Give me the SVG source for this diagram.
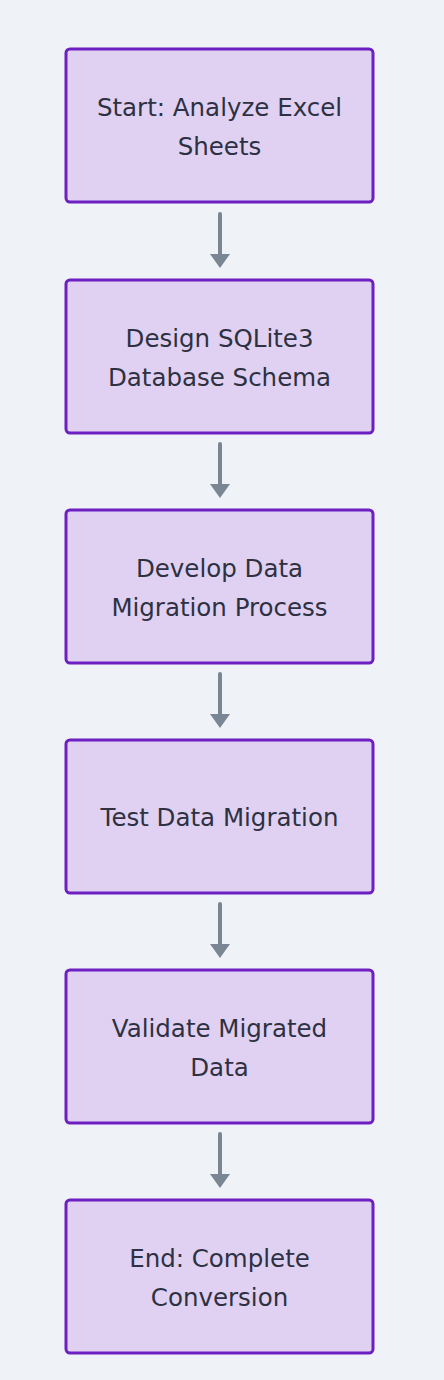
<svg xmlns="http://www.w3.org/2000/svg" width="444" height="1380" viewBox="0 0 444 1380">
<defs>
<style>
.box{fill:#e0d1f2;stroke:#6d1fc2;stroke-width:3}
.t{font-family:"DejaVu Sans",sans-serif;font-size:24.5px;fill:#2e3142;text-anchor:middle;dominant-baseline:central}
.c{stroke:#7b8694;stroke-width:4;stroke-linecap:round;fill:none}
.h{fill:#7b8694}
</style>
</defs>
<rect width="444" height="1380" fill="#eff3f7"/>
<g id="connectors">
<path class="c" d="M220,214 V255"/><path class="h" d="M210,254 L230,254 L220,268 Z"/>
<path class="c" d="M220,444 V485"/><path class="h" d="M210,484 L230,484 L220,498 Z"/>
<path class="c" d="M220,674 V715"/><path class="h" d="M210,714 L230,714 L220,728 Z"/>
<path class="c" d="M220,904 V945"/><path class="h" d="M210,944 L230,944 L220,958 Z"/>
<path class="c" d="M220,1134 V1175"/><path class="h" d="M210,1174 L230,1174 L220,1188 Z"/>
</g>
<g id="n1"><rect class="box" x="66" y="49" width="307" height="153" rx="4"/><text class="t" x="219.5" y="107">Start: Analyze Excel</text><text class="t" x="219.5" y="146">Sheets</text></g>
<g id="n2"><rect class="box" x="66" y="280" width="307" height="153" rx="4"/><text class="t" x="219.5" y="338">Design SQLite3</text><text class="t" x="219.5" y="377">Database Schema</text></g>
<g id="n3"><rect class="box" x="66" y="510" width="307" height="153" rx="4"/><text class="t" x="219.5" y="568">Develop Data</text><text class="t" x="219.5" y="607">Migration Process</text></g>
<g id="n4"><rect class="box" x="66" y="740" width="307" height="153" rx="4"/><text class="t" x="219.5" y="817">Test Data Migration</text></g>
<g id="n5"><rect class="box" x="66" y="970" width="307" height="153" rx="4"/><text class="t" x="219.5" y="1028">Validate Migrated</text><text class="t" x="219.5" y="1067">Data</text></g>
<g id="n6"><rect class="box" x="66" y="1200" width="307" height="153" rx="4"/><text class="t" x="219.5" y="1258">End: Complete</text><text class="t" x="219.5" y="1297">Conversion</text></g>
</svg>
